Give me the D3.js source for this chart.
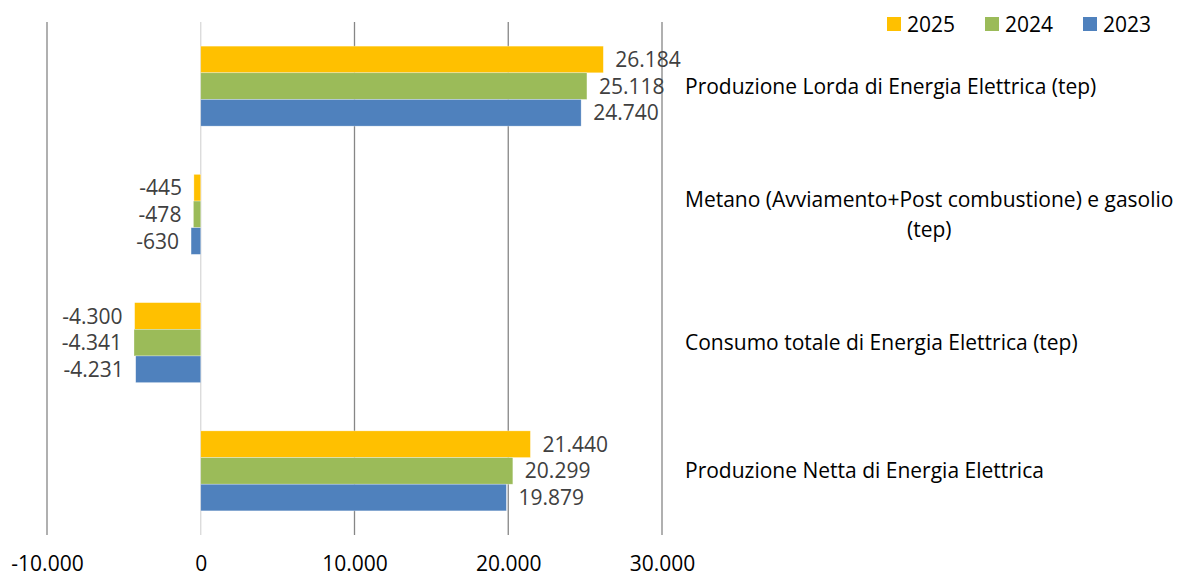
<!DOCTYPE html>
<html>
<head>
<meta charset="utf-8">
<script src="https://cdn.jsdelivr.net/npm/d3@7"></script>
<style>
  body { margin: 0; background: #fff; }
  svg { display: block; font-family: "Open Sans", sans-serif; }
</style>
</head>
<body>
<div id="chart"></div>
<script>
// data
var categories = [
	"Produzione Lorda di Energia Elettrica (tep)",
	"Metano (Avviamento+Post combustione) e gasolio\n(tep)",
	"Consumo totale di Energia Elettrica (tep)",
	"Produzione Netta di Energia Elettrica"
];
var seriesNames = ["2025", "2024", "2023"];
var values2025 = [26184, -445, -4300, 21440];
var values2024 = [25118, -478, -4341, 20299];
var values2023 = [24740, -630, -4231, 19879];
var xTicks = [-10000, 0, 10000, 20000, 30000];
var seriesColors = ["#FFC000", "#9BBB59", "#4F81BD"];

var width = 1180, height = 576;
var plot = {left: 47, right: 662, top: 22, bottom: 535};
var labelX = 685;

var it = d3.formatLocale({decimal: ",", thousands: ".", grouping: [3], currency: ["", "€"], minus: "-"});
var fmt = it.format(",d");

var seriesValues = [values2025, values2024, values2023];
var rows = [];
categories.forEach(function(c, i){
	seriesNames.forEach(function(s, j){
		rows.push({category: c, series: s, value: seriesValues[j][i], color: seriesColors[j]});
	});
});

var svg = d3.select("#chart").append("svg")
	.attr("width", width)
	.attr("height", height);

var x = d3.scaleLinear()
	.domain([xTicks[0], xTicks[xTicks.length - 1]])
	.range([plot.left, plot.right]);

var y = d3.scaleBand()
	.domain(categories)
	.range([plot.top, plot.bottom])
	.padding(0);

var ySeries = d3.scaleBand()
	.domain(seriesNames)
	.range([0, y.bandwidth()])
	.paddingInner(0)
	.paddingOuter(0.905);

// gridlines
svg.append("g").selectAll("line")
	.data(xTicks)
	.enter()
	.append("line")
	.attr("x1", function(d){return x(d)})
	.attr("x2", function(d){return x(d)})
	.attr("y1", plot.top)
	.attr("y2", plot.bottom)
	.attr("stroke", function(d){return d === 0 ? "#d9d9d9" : "#868686"})
	.attr("stroke-width", 1.3);

// x axis labels
var xAxis = d3.axisBottom(x)
	.tickValues(xTicks)
	.tickSize(0)
	.tickPadding(0)
	.tickFormat(fmt);

var axisG = svg.append("g")
	.attr("transform", "translate(0," + 571 + ")")
	.call(xAxis);
axisG.select(".domain").remove();
axisG.selectAll("text")
	.attr("dy", 0)
	.attr("font-size", 21)
	.attr("font-family", "Open Sans, sans-serif")
	.attr("fill", "#000");

// bars
var bars = svg.append("g").selectAll("rect")
	.data(rows)
	.enter()
	.append("rect")
	.attr("x", function(d){return x(Math.min(0, d.value))})
	.attr("y", function(d){return y(d.category) + ySeries(d.series)})
	.attr("width", function(d){return Math.abs(x(d.value) - x(0))})
	.attr("height", ySeries.bandwidth())
	.attr("fill", function(d){return d.color})
	.attr("stroke", "#fff")
	.attr("stroke-opacity", 0.5)
	.attr("stroke-width", 0.6);

// value labels
svg.append("g").selectAll("text")
	.data(rows)
	.enter()
	.append("text")
	.attr("x", function(d){return d.value < 0 ? x(d.value) - 12 : x(d.value) + 12})
	.attr("y", function(d){return y(d.category) + ySeries(d.series) + ySeries.bandwidth() / 2})
	.attr("dy", "0.36em")
	.attr("text-anchor", function(d){return d.value < 0 ? "end" : "start"})
	.attr("font-size", 21)
	.attr("fill", "#404040")
	.text(function(d){return fmt(d.value)});

// category labels on the right
var catG = svg.append("g").selectAll("g")
	.data(categories)
	.enter()
	.append("g");

catG.each(function(c){
	var g = d3.select(this);
	var lines = c.split("\n");
	var lineH = 30;
	var cy = y(c) + y.bandwidth() / 2 - (lines.length - 1) * lineH / 2;
	var texts = g.selectAll("text")
		.data(lines)
		.enter()
		.append("text")
		.attr("y", function(d, i){return cy + i * lineH})
		.attr("dy", "0.36em")
		.attr("font-size", 21)
		.attr("fill", "#000")
		.text(function(d){return d});
	var maxW = 0;
	texts.each(function(){ maxW = Math.max(maxW, this.getComputedTextLength()); });
	texts.attr("x", labelX + maxW / 2).attr("text-anchor", "middle");
});

// legend
var legendX = [887, 985, 1083];
var legend = svg.append("g").selectAll("g")
	.data(seriesNames)
	.enter()
	.append("g")
	.attr("transform", function(d, i){return "translate(" + legendX[i] + ",17)"});

legend.append("rect")
	.attr("width", 14)
	.attr("height", 14)
	.attr("fill", function(d, i){return seriesColors[i]});

legend.append("text")
	.attr("x", 20)
	.attr("y", 7)
	.attr("dy", "0.36em")
	.attr("font-size", 21)
	.attr("fill", "#000")
	.text(function(d){return d});
</script>
</body>
</html>
